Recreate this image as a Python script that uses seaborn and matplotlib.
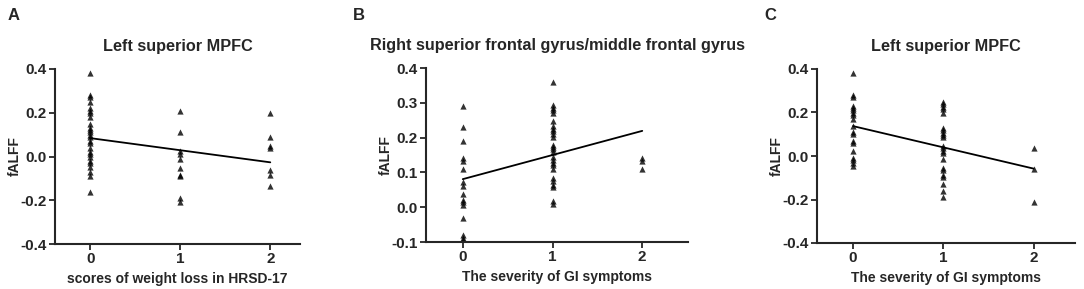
import numpy as np
import pandas as pd
import matplotlib
matplotlib.use("Agg")
import matplotlib.pyplot as plt
import seaborn as sns

# panel A: fALFF vs scores of weight loss
a_x0 = [0.38, 0.28, 0.27, 0.25, 0.22, 0.21, 0.20, 0.18, 0.15, 0.13, 0.12, 0.11,
        0.10, 0.09, 0.07, 0.06, 0.04, 0.02, 0.01, 0.00, -0.02, -0.03, -0.05,
        -0.07, -0.09, -0.16]
a_x1 = [0.21, 0.11, 0.023, 0.012, -0.01, -0.053, -0.084, -0.09, -0.19, -0.21]
a_x2 = [0.20, 0.089, 0.049, 0.038, -0.06, -0.084, -0.134]

# panel B: fALFF vs severity of GI symptoms
b_x0 = [0.29, 0.23, 0.19, 0.14, 0.134, 0.11, 0.072, 0.062, 0.039, 0.022, 0.014,
        0.006, -0.032, -0.08, -0.088, -0.095]
b_x1 = [0.36, 0.293, 0.285, 0.278, 0.271, 0.249, 0.233, 0.226, 0.218, 0.211,
        0.202, 0.18, 0.173, 0.166, 0.158, 0.144, 0.137, 0.127, 0.12, 0.11,
        0.084, 0.075, 0.065, 0.057, 0.019, 0.01]
b_x2 = [0.14, 0.132, 0.11]

# panel C: fALFF vs severity of GI symptoms
c_x0 = [0.38, 0.28, 0.27, 0.23, 0.22, 0.21, 0.20, 0.19, 0.17, 0.14, 0.11, 0.10,
        0.07, 0.06, 0.025, -0.01, -0.02, -0.033, -0.045]
c_x1 = [0.25, 0.24, 0.227, 0.214, 0.20, 0.13, 0.12, 0.108, 0.097, 0.086, 0.047,
        0.036, 0.025, 0.013, -0.013, -0.053, -0.063, -0.086, -0.097, -0.13,
        -0.16, -0.19]
c_x2 = [0.036, -0.06, -0.213]

titles = ["Left superior MPFC",
          "Right superior frontal gyrus/middle frontal gyrus",
          "Left superior MPFC"]
xlabels = ["scores of weight loss in HRSD-17",
           "The severity of GI symptoms",
           "The severity of GI symptoms"]
letters = ["A", "B", "C"]


def make_df(g0, g1, g2):
    return pd.DataFrame({
        "score": [0] * len(g0) + [1] * len(g1) + [2] * len(g2),
        "fALFF": g0 + g1 + g2,
    })


data = [make_df(a_x0, a_x1, a_x2), make_df(b_x0, b_x1, b_x2), make_df(c_x0, c_x1, c_x2)]

sns.set_style("ticks")
plt.rcParams["font.family"] = ["Liberation Sans", "DejaVu Sans"]
plt.rcParams["font.weight"] = "bold"

fig = plt.figure(figsize=(10.84, 2.89), dpi=100)
W, H = 1084, 289
boxes = [(55, 300, 69, 244), (426, 688, 68, 242), (817, 1075, 69, 243)]
ylims = [(-0.4, 0.4), (-0.1, 0.4), (-0.4, 0.4)]
yticks = [np.arange(-0.4, 0.41, 0.2), np.arange(-0.1, 0.41, 0.1), np.arange(-0.4, 0.41, 0.2)]
xlims = [(-0.39, 2.33), (-0.41, 2.51), (-0.4, 2.46)]
letter_x = [8, 353, 764]

for i in range(3):
    l, r, t, b = boxes[i]
    ax = fig.add_axes([l / W, (H - b) / H, (r - l) / W, (b - t) / H])
    sns.regplot(data=data[i], x="score", y="fALFF", ax=ax, ci=None, color="black",
                marker="^", scatter_kws={"s": 20, "linewidths": 0},
                line_kws={"lw": 1.3})
    ax.set_xlim(*xlims[i])
    ax.set_ylim(*ylims[i])
    ax.set_xticks([0, 1, 2])
    ax.set_yticks(yticks[i])
    ax.set_yticklabels([f"{v:.1f}" for v in yticks[i]])
    ax.tick_params(labelsize=11, width=1.3, length=4, pad=2)
    for s in ["left", "bottom"]:
        ax.spines[s].set_linewidth(1.5)
    sns.despine(ax=ax)
    ax.set_xlabel(xlabels[i], fontsize=10, fontweight="bold", labelpad=4)
    ax.set_ylabel("fALFF", fontsize=10, fontweight="bold", labelpad=-1)
    ax.set_title(titles[i], fontsize=11.7, fontweight="bold", pad=13)
    fig.text(letter_x[i] / W, 1 - 15 / H, letters[i], fontsize=12,
             fontweight="bold", va="center", ha="left")

fig.savefig("out.png", dpi=100)
